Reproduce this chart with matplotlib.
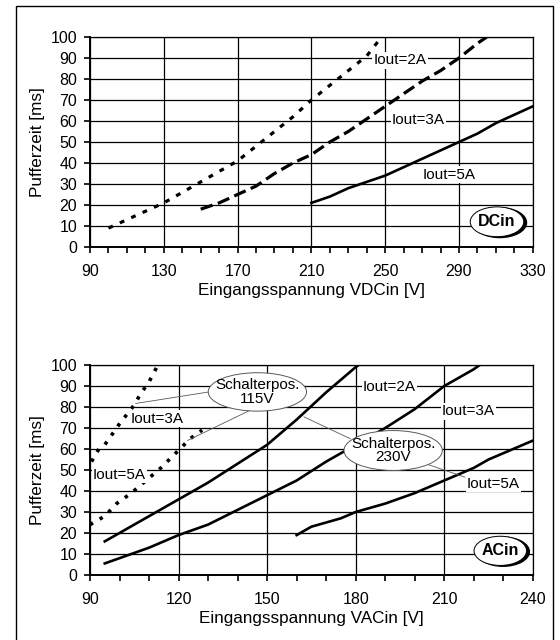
import matplotlib
matplotlib.use("Agg")
import matplotlib.pyplot as plt
from matplotlib.patches import Ellipse, Rectangle
from matplotlib.ticker import MultipleLocator
from matplotlib.transforms import ScaledTranslation

plt.rcParams['font.family'] = ['Liberation Sans', 'DejaVu Sans']
plt.rcParams['lines.scale_dashes'] = False

# DC input, buffer time [ms] vs. input voltage [V]
dc_v_2a = [100, 110, 120, 130, 140, 150, 160, 170, 180, 190, 200, 210, 220, 230, 240, 248]
dc_t_2a = [9, 13, 17, 21, 26, 31, 36, 41, 48, 55, 62, 70, 77, 84, 91, 100]
dc_v_3a = [150, 160, 170, 180, 190, 200, 210, 220, 230, 240, 250, 260, 270, 280, 290, 300, 305]
dc_t_3a = [18, 21, 25, 29, 35, 40, 44, 50, 55, 61, 67, 73, 79, 84, 90, 97, 100]
dc_v_5a = [210, 220, 230, 240, 250, 260, 270, 280, 290, 300, 310, 320, 330]
dc_t_5a = [21, 24, 28, 31, 34, 38, 42, 46, 50, 54, 59, 63, 67]
dc_ticks = [90, 130, 170, 210, 250, 290, 330]

# AC input, switch position 115V (dotted)
ac115_v_3a = [90.5, 93, 95, 100, 105, 107, 110, 113]
ac115_t_3a = [54, 60, 62, 72, 81, 86, 92, 100]
ac115_v_5a = [90, 95, 99, 104, 109, 114, 119, 124, 128]
ac115_t_5a = [24, 28, 34, 39, 45, 51, 58, 65, 69]

# AC input, switch position 230V (solid)
ac230_v_2a = [95, 100, 110, 120, 130, 140, 150, 160, 170, 180, 181]
ac230_t_2a = [16, 20, 28, 36, 44, 53, 62, 74, 87, 99, 100]
ac230_v_3a = [95, 100, 110, 120, 130, 140, 150, 160, 170, 180, 190, 200, 210, 220, 222]
ac230_t_3a = [5.5, 8, 13, 19, 24, 31, 38, 45, 54, 62, 70, 79, 90, 98, 100]
ac230_v_5a = [160, 165, 175, 180, 190, 200, 210, 220, 225, 230, 240]
ac230_t_5a = [19, 23, 27, 30, 34, 39, 45, 51, 55, 58, 64]
ac_ticks = [90, 120, 150, 180, 210, 240]

fig = plt.figure(figsize=(5.6, 6.4), dpi=100)

# outer frame
fig.patches.append(Rectangle((16 / 560, -0.01), 537 / 560, 0.9906 + 0.01,
                             transform=fig.transFigure, fill=False,
                             edgecolor='black', linewidth=1.0))

lbl_box = dict(facecolor='white', edgecolor='none', pad=1)


def style_axes(ax, ticks):
    ax.set_xlim(ticks[0], ticks[-1])
    ax.set_ylim(0, 100)
    ax.set_xticks(ticks)
    ax.set_xticks(range(ticks[0], ticks[-1] + 1, 10), minor=True)
    ax.yaxis.set_major_locator(MultipleLocator(10))
    ax.grid(True, which='major', color='black', linewidth=0.9)
    ax.set_axisbelow(True)
    for s in ax.spines.values():
        s.set_linewidth(0.9)
    ax.spines['left'].set_linewidth(1.4)
    ax.spines['bottom'].set_linewidth(1.4)
    ax.tick_params(axis='x', which='both', direction='out', length=4, width=1.2,
                   labelsize=11.5, pad=8.5)
    ax.tick_params(axis='y', direction='out', length=4.3, width=1.2, labelsize=11.5, pad=5)
    ax.set_ylabel('Pufferzeit [ms]', fontsize=12.3, va='center')
    ax.yaxis.set_label_coords(-0.119, 0.5)


def shadow_ellipse(ax, xy, w, h, text):
    off = ax.transData + ScaledTranslation(2 / 72, -0.6 / 72, fig.dpi_scale_trans)
    ax.add_patch(Ellipse(xy, w, h, facecolor='black', edgecolor='black', transform=off, zorder=5))
    ax.add_patch(Ellipse(xy, w, h, facecolor='white', edgecolor='black', linewidth=0.7, zorder=6))
    ax.text(xy[0], xy[1], text, ha='center', va='center', fontsize=11.5,
            fontweight='bold', zorder=7)


# ---- DC chart ----
ax1 = fig.add_axes([0.1607, 0.6141, 0.7907, 0.328])
style_axes(ax1, dc_ticks)
ax1.plot(dc_v_2a, dc_t_2a, color='black', linewidth=2.3, dashes=(3.5, 5.5), zorder=3)
ax1.plot(dc_v_3a, dc_t_3a, color='black', linewidth=2.3, dashes=(9, 4), zorder=3)
ax1.plot(dc_v_5a, dc_t_5a, color='black', linewidth=1.9, zorder=3)
ax1.text(258, 89, 'Iout=2A', ha='center', va='center', fontsize=11, bbox=lbl_box, zorder=4)
ax1.text(268, 60.5, 'Iout=3A', ha='center', va='center', fontsize=11, bbox=lbl_box, zorder=4)
ax1.text(284.5, 34.5, 'Iout=5A', ha='center', va='center', fontsize=11, bbox=lbl_box, zorder=4)
shadow_ellipse(ax1, (310.6, 12), 29, 14.2, 'DCin')
ax1.set_xlabel('Eingangsspannung VDCin [V]', fontsize=12.3, va='center')
ax1.xaxis.set_label_coords(0.5, -0.207)

# ---- AC chart ----
ax2 = fig.add_axes([0.1607, 0.1016, 0.7907, 0.328])
style_axes(ax2, ac_ticks)
ax2.plot(ac115_v_3a, ac115_t_3a, color='black', linewidth=2.6, dashes=(2.5, 5.5), zorder=3)
ax2.plot(ac115_v_5a, ac115_t_5a, color='black', linewidth=2.6, dashes=(2.5, 5.5), zorder=3)
ax2.plot(ac230_v_2a, ac230_t_2a, color='black', linewidth=1.9, zorder=3)
ax2.plot(ac230_v_3a, ac230_t_3a, color='black', linewidth=1.9, zorder=3)
ax2.plot(ac230_v_5a, ac230_t_5a, color='black', linewidth=1.9, zorder=3)

ax2.text(191.5, 89.6, 'Iout=2A', ha='center', va='center', fontsize=11, bbox=lbl_box, zorder=4)
ax2.text(218.2, 78, 'Iout=3A', ha='center', va='center', fontsize=11, bbox=lbl_box, zorder=4)
ax2.text(226.7, 43.4, 'Iout=5A', ha='center', va='center', fontsize=11, bbox=lbl_box, zorder=4)
ax2.text(112.8, 74.5, 'Iout=3A', ha='center', va='center', fontsize=11, bbox=lbl_box, zorder=4)
ax2.text(100, 47.8, 'Iout=5A', ha='center', va='center', fontsize=11, bbox=lbl_box, zorder=4)

# pointer lines to the switch position notes
ax2.plot([130.3, 105.5], [87.2, 81.7], color='0.35', linewidth=0.6, zorder=4)
ax2.plot([144.3, 123.1], [78.5, 64.1], color='0.35', linewidth=0.6, zorder=4)
ax2.plot([178.2, 162.5], [64.9, 75.3], color='0.35', linewidth=0.6, zorder=4)
ax2.plot([203.7, 217.0], [53.0, 46.6], color='0.35', linewidth=0.6, zorder=4)

ax2.add_patch(Ellipse((146.7, 87.2), 33.3, 18.3, facecolor='white', edgecolor='0.35',
                      linewidth=0.7, zorder=5))
ax2.text(146.7, 87.2, 'Schalterpos.\n115V', ha='center', va='center', fontsize=11,
         linespacing=0.95, zorder=6)
ax2.add_patch(Ellipse((192.7, 59.3), 33.3, 19, facecolor='white', edgecolor='0.35',
                      linewidth=0.7, zorder=5))
ax2.text(192.7, 59.3, 'Schalterpos.\n230V', ha='center', va='center', fontsize=11,
         linespacing=0.95, zorder=6)

shadow_ellipse(ax2, (229, 11.5), 17.8, 13.9, 'ACin')
ax2.set_xlabel('Eingangsspannung VACin [V]', fontsize=12.3, va='center')
ax2.xaxis.set_label_coords(0.5, -0.205)

fig.savefig('out.png', dpi=100)
